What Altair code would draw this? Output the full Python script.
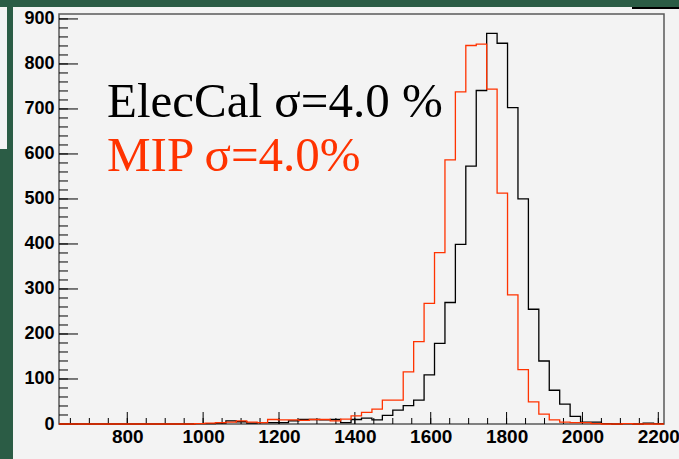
import altair as alt
import pandas as pd

# ---- histogram binning (58 bins) ----
BIN_LOW = 620.0
BIN_WIDTH = 27.5
N_BINS = 58
X_MAX = 2215.0
Y_MAX = 911.0

# counts per bin (bins 0..57)
elec_counts = [0] * 13 + [
    1, 1, 2, 7, 5, 2, 3, 3, 3, 7,
    10, 10, 9, 10, 3, 10, 13, 9, 19, 31,
    41, 53, 109, 179, 270, 399, 573, 741, 868, 846,
    703, 500, 255, 140, 75, 44, 17, 4, 4, 1,
    0, 1, 0, 2, 1,
]
mip_counts = [0] * 13 + [
    1, 2, 3, 4, 7, 4, 3, 10, 9, 9,
    8, 10, 10, 7, 11, 18, 26, 33, 53, 53,
    116, 183, 268, 381, 587, 738, 841, 844, 744, 513,
    287, 121, 49, 22, 9, 4, 3, 3, 1, 0,
    0, 1, 0, 0, 0,
]

x_major = [800, 1000, 1200, 1400, 1600, 1800, 2000, 2200]
x_minor = list(range(650, 2201, 50))
y_major = [0, 100, 200, 300, 400, 500, 600, 700, 800, 900]
y_minor = list(range(0, 901, 20))

label_elec = "ElecCal σ=4.0 %"
label_mip = "MIP σ=4.0%"

BLACK = "#000000"
RED = "#ff3300"
PANEL = "#f3f3f3"
GREEN = "#2b5c45"

W, H = 605, 410


def hist_frame(counts):
    edges = [BIN_LOW + BIN_WIDTH * i for i in range(N_BINS + 1)]
    ys = list(counts) + [counts[-1]]
    return pd.DataFrame({"x": edges, "y": ys})


xs = alt.Scale(domain=[BIN_LOW, X_MAX], nice=False, zero=False)
yscale = alt.Scale(domain=[0, Y_MAX], nice=False, zero=False)

axis_common = dict(
    title=None, ticks=False, domain=False, grid=False, zindex=1, format="d",
    labelFont="Liberation Sans", labelFontWeight="bold", labelColor="#000000",
)
xaxis = alt.Axis(values=x_major, labelFontSize=19, labelPadding=3, **axis_common)
yaxis = alt.Axis(values=y_major, labelFontSize=18, labelPadding=5, **axis_common)

one = pd.DataFrame({"a": [0]})

# background panels
panel = alt.Chart(one).mark_rect(color=PANEL).encode(
    x=alt.value(-46), x2=alt.value(620), y=alt.value(-7), y2=alt.value(445)
)
side_strip = alt.Chart(one).mark_rect(color=PANEL).encode(
    x=alt.value(-59), x2=alt.value(-52), y=alt.value(-7), y2=alt.value(135)
)
corner_line = alt.Chart(one).mark_rule(color="#000000", strokeWidth=2).encode(
    x=alt.value(573), x2=alt.value(625), y=alt.value(-6)
)

frame = alt.Chart(one).mark_rect(
    fillOpacity=0, stroke="#5a5a5a", strokeWidth=1.5
).encode(x=alt.value(0), x2=alt.value(W), y=alt.value(0), y2=alt.value(H))

# ticks (inside the frame)
xmaj = alt.Chart(pd.DataFrame({"v": x_major})).mark_rule(color="#000", strokeWidth=1).encode(
    x=alt.X("v:Q", scale=xs, axis=xaxis), y=alt.value(H), y2=alt.value(H - 12)
)
xmin = alt.Chart(pd.DataFrame({"v": x_minor})).mark_rule(color="#000", strokeWidth=1).encode(
    x=alt.X("v:Q", scale=xs, axis=xaxis), y=alt.value(H), y2=alt.value(H - 6)
)
ymaj = alt.Chart(pd.DataFrame({"v": y_major})).mark_rule(color="#000", strokeWidth=1).encode(
    y=alt.Y("v:Q", scale=yscale, axis=yaxis), x=alt.value(0), x2=alt.value(19)
)
ymin = alt.Chart(pd.DataFrame({"v": y_minor})).mark_rule(color="#000", strokeWidth=1).encode(
    y=alt.Y("v:Q", scale=yscale, axis=yaxis), x=alt.value(0), x2=alt.value(9)
)

elec = alt.Chart(hist_frame(elec_counts)).mark_line(
    interpolate="step-after", color=BLACK, strokeWidth=1.3
).encode(
    x=alt.X("x:Q", scale=xs, axis=xaxis),
    y=alt.Y("y:Q", scale=yscale, axis=yaxis),
)
mip = alt.Chart(hist_frame(mip_counts)).mark_line(
    interpolate="step-after", color=RED, strokeWidth=1.3
).encode(
    x=alt.X("x:Q", scale=xs, axis=xaxis),
    y=alt.Y("y:Q", scale=yscale, axis=yaxis),
)

t1 = alt.Chart(one).mark_text(
    align="left", baseline="alphabetic", font="Liberation Serif", fontSize=49, color=BLACK
).encode(x=alt.value(48), y=alt.value(103), text=alt.value(label_elec))
t2 = alt.Chart(one).mark_text(
    align="left", baseline="alphabetic", font="Liberation Serif", fontSize=49, color=RED
).encode(x=alt.value(48), y=alt.value(157), text=alt.value(label_mip))

chart = alt.layer(
    panel, side_strip, corner_line, frame, xmin, xmaj, ymin, ymaj, elec, mip, t1, t2
).properties(
    width=W, height=H,
    autosize=alt.AutoSizeParams(type="none"),
    padding={"left": 59, "top": 14, "right": 15, "bottom": 35},
    background=GREEN,
).configure_view(stroke=None)

chart.save("out.html", embed_options={"renderer": "svg", "actions": False})
